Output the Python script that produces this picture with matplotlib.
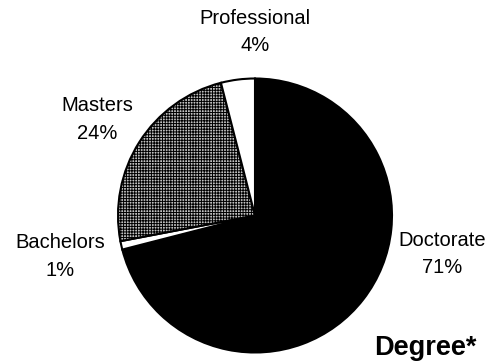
import matplotlib.pyplot as plt

labels = ['Doctorate', 'Bachelors', 'Masters', 'Professional']
shares = [71, 1, 24, 4]
colors = ['black', 'white', '#c0c0c0', 'white']
hatches = ['', '', '++++++', '']
# label positions (data coords, pie radius = 1)
label_pos = [(1.365, -0.28), (-1.42, -0.30), (-1.15, 0.70), (0.0, 1.34)]

plt.rcParams['font.family'] = ['Liberation Sans', 'DejaVu Sans']
plt.rcParams['hatch.linewidth'] = 0.7

fig = plt.figure(figsize=(4.9, 3.62), dpi=100)
# pie centre at (255, 215.5) px, radius 137 px
r = 137 * 1.02
ax = fig.add_axes([(255 - r) / 490, (362 - 215.5 - r) / 362, 2 * r / 490, 2 * r / 362])

wedges, _ = ax.pie(shares, colors=colors, startangle=90, counterclock=False,
                   wedgeprops=dict(edgecolor='black', linewidth=1.5))
for w, h in zip(wedges, hatches):
    w.set_hatch(h)

for name, val, (x, y) in zip(labels, shares, label_pos):
    ax.text(x, y, f'{name}\n{val}%', ha='center', va='center', fontsize=14.5,
            linespacing=1.55, clip_on=False)

ax.set_xlim(-1.02, 1.02)
ax.set_ylim(-1.02, 1.02)
ax.set_aspect('equal')
ax.axis('off')

fig.text(425/490, 1 - 355/362, 'Degree*', ha='center', va='baseline',
         fontsize=19.5, fontweight='bold')

fig.savefig('out.png', dpi=100)
